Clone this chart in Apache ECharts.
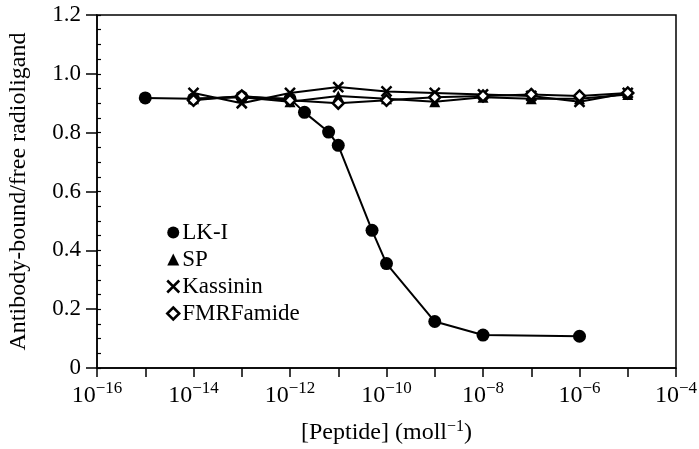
<!DOCTYPE html>
<html>
<head>
<meta charset="utf-8">
<script src="https://cdn.jsdelivr.net/npm/echarts@6/dist/echarts.min.js"></script>
<style>html,body{margin:0;padding:0;background:#fff}#c{width:699px;height:449px}</style>
</head>
<body>
<div id="c"></div>
<script>
// Exponent of peptide concentration (log10 mol l-1)
var lkX = [-15, -14, -13, -12, -11.7, -11.2, -11, -10.3, -10, -9, -8, -6];
var lkY = [0.918, 0.915, 0.922, 0.915, 0.869, 0.802, 0.757, 0.468, 0.355, 0.158, 0.112, 0.108];
var upX = [-14, -13, -12, -11, -10, -9, -8, -7, -6, -5];
var spY = [0.915, 0.92, 0.905, 0.925, 0.915, 0.905, 0.92, 0.915, 0.915, 0.93];
var kasY = [0.935, 0.90, 0.935, 0.955, 0.94, 0.935, 0.93, 0.925, 0.905, 0.935];
var fmY = [0.91, 0.925, 0.91, 0.90, 0.91, 0.92, 0.925, 0.93, 0.925, 0.935];
var names = ['LK-I', 'SP', 'Kassinin', 'FMRFamide'];
var xTickExps = [-16, -14, -12, -10, -8, -6, -4];

function pairs(xs, ys) { return xs.map(function (x, i) { return [x, ys[i]]; }); }

var FONT = '"Liberation Serif", "Times New Roman", serif';
var X_PATH = 'path://M0,0L10,10M10,0L0,10';

var chart = echarts.init(document.getElementById('c'));
chart.setOption({
  animation: false,
  textStyle: { fontFamily: FONT, color: '#000' },
  grid: { left: 97, right: 23, top: 15, bottom: 81, containLabel: false, outerBoundsMode: 'none',
    show: true, borderColor: '#000', borderWidth: 1.5, backgroundColor: 'transparent' },
  legend: {
    orient: 'vertical', left: 161, top: 216, itemGap: 4, itemWidth: 12, itemHeight: 12,
    textStyle: { fontFamily: FONT, fontSize: 23, color: '#000', padding: [0, 0, 0, -2] },
    data: [
      { name: names[0], icon: 'circle', itemStyle: { color: '#000', borderWidth: 0 } },
      { name: names[1], icon: 'triangle', itemStyle: { color: '#000', borderWidth: 0 } },
      { name: names[2], icon: X_PATH, itemStyle: { color: '#000', borderColor: '#000', borderWidth: 2.5 } },
      { name: names[3], icon: 'diamond', itemStyle: { color: '#fff', borderColor: '#000', borderWidth: 2.5 } }
    ]
  },
  xAxis: {
    type: 'value', min: -16, max: -4, interval: 1,
    name: '[Peptide] (moll{s|−1})', nameLocation: 'middle', nameGap: 51,
    nameTextStyle: { fontFamily: FONT, fontSize: 24, color: '#000', rich: { s: { fontFamily: FONT, fontSize: 16, padding: [0, 0, 11, 0] } } },
    axisLine: { lineStyle: { color: '#000', width: 1.5 } },
    axisTick: { length: 9, lineStyle: { color: '#000', width: 1.5 } },
    splitLine: { show: false },
    axisLabel: {
      margin: 12,
      formatter: function (v) {
        return xTickExps.indexOf(v) >= 0 ? '{b|10}{s|−' + Math.abs(v) + '}' : '';
      },
      rich: {
        b: { fontFamily: FONT, fontSize: 24, color: '#000' },
        s: { fontFamily: FONT, fontSize: 17, color: '#000', padding: [0, 0, 14, 0] }
      }
    }
  },
  yAxis: [{
    type: 'value', min: 0, max: 1.2, interval: 0.2,
    name: 'Antibody-bound/free radioligand', nameLocation: 'middle', nameGap: 66,
    nameTextStyle: { fontFamily: FONT, fontSize: 24, color: '#000' },
    axisLine: { lineStyle: { color: '#000', width: 1.5 } },
    axisTick: { length: 11, lineStyle: { color: '#000', width: 1.5 } },
    splitLine: { show: false },
    axisLabel: {
      margin: 16, fontFamily: FONT, fontSize: 23, color: '#000',
      formatter: function (v) { return v === 0 ? '0' : v.toFixed(1); }
    }
  }, {
    type: 'value', min: 0, max: 1.2, interval: 0.05, position: 'left',
    axisLine: { show: false },
    axisTick: { inside: true, length: 4, lineStyle: { color: '#000', width: 1.2 } },
    axisLabel: { show: false }, splitLine: { show: false }
  }],
  series: [
    { name: names[0], type: 'line', data: pairs(lkX, lkY), symbol: 'circle', symbolSize: 13,
      itemStyle: { color: '#000' }, lineStyle: { color: '#000', width: 2 } },
    { name: names[1], type: 'line', data: pairs(upX, spY), symbol: 'triangle', symbolSize: 11,
      itemStyle: { color: '#000' }, lineStyle: { color: '#000', width: 2 } },
    { name: names[2], type: 'line', data: pairs(upX, kasY), symbol: X_PATH, symbolSize: 10,
      itemStyle: { color: '#000', borderColor: '#000', borderWidth: 2.5 }, lineStyle: { color: '#000', width: 2 } },
    { name: names[3], type: 'line', data: pairs(upX, fmY), symbol: 'diamond', symbolSize: 11,
      itemStyle: { color: '#fff', borderColor: '#000', borderWidth: 2.5 }, lineStyle: { color: '#000', width: 2 } }
  ]
});
</script>
</body>
</html>
